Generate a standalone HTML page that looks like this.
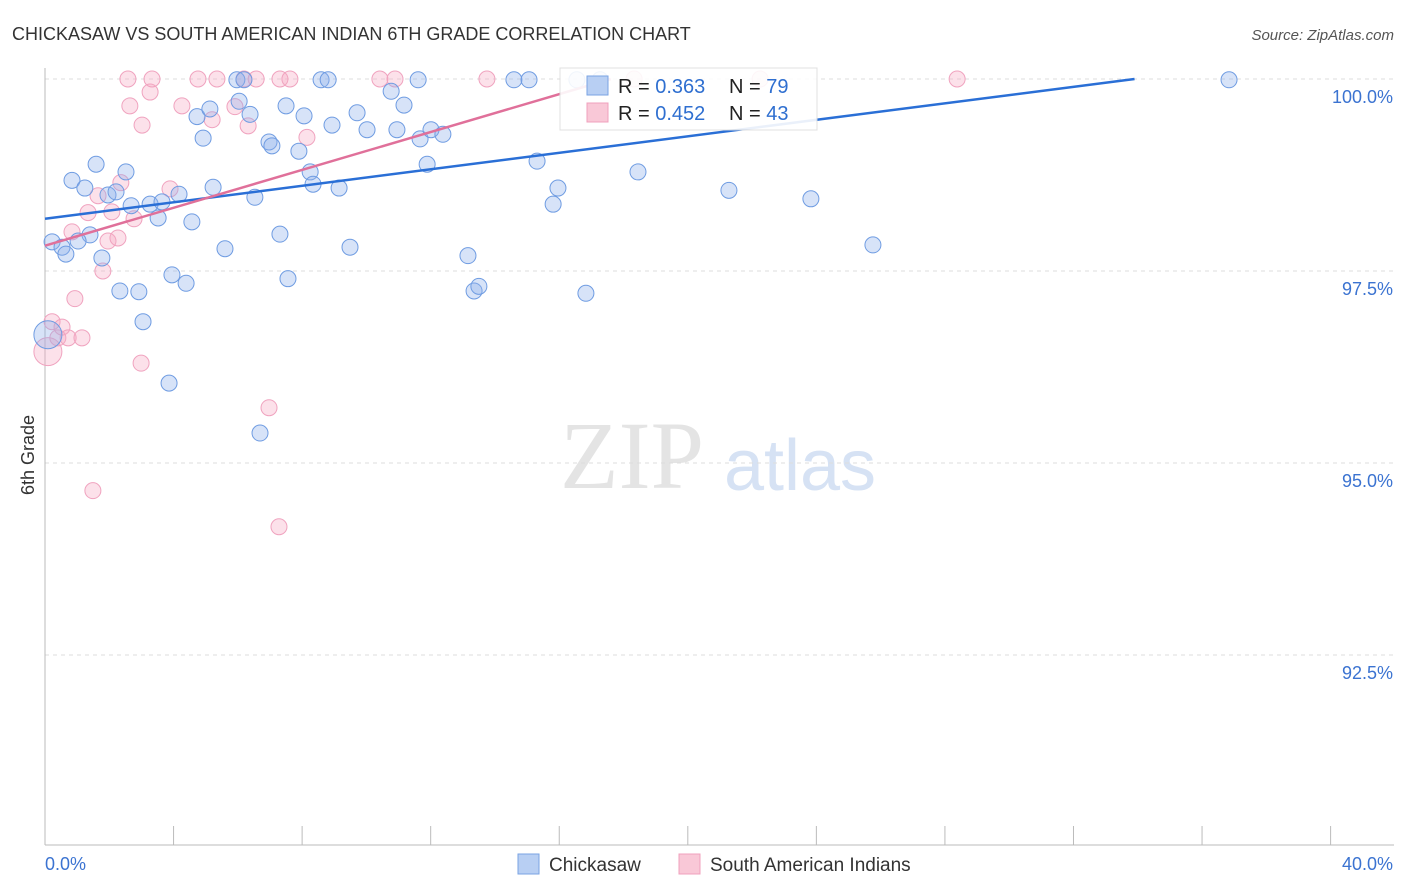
<!DOCTYPE html>
<html><head><meta charset="utf-8"><style>
body{margin:0;background:#fff;font-family:"Liberation Sans",sans-serif;}
svg{display:block}
</style></head><body>
<svg id="c" width="1406" height="892">
<text x="12" y="40" font-size="18" fill="#333">CHICKASAW VS SOUTH AMERICAN INDIAN 6TH GRADE CORRELATION CHART</text>
<text x="1394" y="40" font-size="15" fill="#555" font-style="italic" text-anchor="end">Source: ZipAtlas.com</text>
<text x="632" y="488" font-size="96" fill="#e4e4e4" font-family="Liberation Serif" text-anchor="middle">ZIP</text>
<text x="800" y="490" font-size="72" fill="#d6e2f4" text-anchor="middle">atlas</text>
<g id="grid"></g><g id="pts"></g><g id="lines"></g>
<text transform="translate(34,455) rotate(-90)" font-size="18" fill="#333" text-anchor="middle">6th Grade</text>
<g>
<rect x="560" y="68" width="257" height="62" fill="#fff" stroke="#ddd" opacity="0.9"/>
<rect x="587" y="76" width="21" height="19" fill="#b8cff3" stroke="#7aa3e3"/>
<rect x="587" y="103" width="21" height="19" fill="#f9c8d7" stroke="#f0a0bc"/>
<text x="618" y="93" font-size="20" fill="#222">R = <tspan fill="#2f6fd0">0.363</tspan></text>
<text x="729" y="93" font-size="20" fill="#222">N = <tspan fill="#2f6fd0">79</tspan></text>
<text x="618" y="120" font-size="20" fill="#222">R = <tspan fill="#2f6fd0">0.452</tspan></text>
<text x="729" y="120" font-size="20" fill="#222">N = <tspan fill="#2f6fd0">43</tspan></text>
</g>
<g>
<rect x="518" y="854" width="21" height="20" fill="#b8cff3" stroke="#7aa3e3"/>
<text x="549" y="871" font-size="19" fill="#333">Chickasaw</text>
<rect x="679" y="854" width="21" height="20" fill="#f9c8d7" stroke="#f0a0bc"/>
<text x="710" y="871" font-size="19" fill="#333">South American Indians</text>
</g>
</svg>
<script>
const xTicks=[0,4,8,12,16,20,24,28,32,36,40];
const yTicks=[100,97.5,95,92.5];
const yTickLabels=["100.0%","97.5%","95.0%","92.5%"];
const blueX=[0.22,0.53,0.65,0.84,1.24,1.59,1.40,1.03,1.77,1.96,2.21,2.52,2.33,2.68,2.92,3.05,3.27,3.52,3.64,3.86,3.95,4.17,4.39,4.57,4.73,4.92,5.13,5.23,5.60,5.97,6.04,6.19,6.38,6.53,6.69,6.97,7.06,7.31,7.50,7.56,7.90,8.06,8.25,8.34,8.59,8.81,8.93,9.15,9.49,9.71,10.02,10.77,10.95,11.17,11.61,11.67,11.89,12.01,12.38,13.16,13.35,13.50,14.59,15.06,15.31,15.81,15.96,16.55,16.83,17.27,18.45,21.28,23.83,25.76,36.84,0.09];
const blueY=[97.88,97.81,97.72,98.68,98.58,98.89,97.97,97.89,97.67,98.49,98.53,98.79,97.24,98.35,97.23,96.84,98.37,98.19,98.40,96.04,97.45,98.50,97.34,98.14,99.51,99.23,99.61,98.59,97.79,99.99,99.71,99.99,99.54,98.46,95.39,99.18,99.13,97.98,99.65,97.40,99.06,99.52,98.79,98.63,99.99,99.99,99.40,98.58,97.81,99.56,99.34,99.84,99.34,99.66,99.99,99.22,98.89,99.34,99.28,97.70,97.24,97.30,99.99,99.99,98.93,98.37,98.58,99.99,97.21,99.99,98.79,98.55,98.44,97.84,99.99,96.67];
const pinkX=[0.09,0.22,0.40,0.53,0.72,0.93,1.15,1.34,1.49,1.65,1.80,1.96,2.08,2.27,2.36,2.58,2.64,2.77,3.02,2.99,3.27,3.33,3.89,4.26,4.76,5.20,5.35,5.91,6.19,6.32,6.57,6.97,7.28,7.31,7.62,8.15,10.42,10.89,13.75,18.33,28.38,0.84,22.25];
const pinkY=[96.45,96.84,96.63,96.77,96.63,97.14,96.63,98.26,94.64,98.48,97.50,97.89,98.27,97.93,98.65,100,99.65,98.18,99.40,96.30,99.83,100,98.57,99.65,100,99.47,100,99.64,100,99.39,100,95.72,94.17,100,100,99.24,100,100,100,100,100,98.01,100];
const blueLine=[[0,98.18],[33.9,100]];
const pinkLine=[[0,97.83],[17.6,100]];
const NS="http://www.w3.org/2000/svg";
const X=v=>45+v*32.14, Y=v=>79+(100-v)*76.8;
function mk(t,a,p){const e=document.createElementNS(NS,t);for(const k in a)e.setAttribute(k,a[k]);p.appendChild(e);return e;}
const g=document.getElementById('grid');
yTicks.forEach((t,i)=>{
 const l=mk('line',{x1:45,x2:1394,y1:Y(t),y2:Y(t),stroke:'#ddd','stroke-dasharray':'4,4'},g);
 
 
 const tx=mk('text',{x:1393,y:Y(t)+24,'font-size':18,fill:'#3b73d1','text-anchor':'end'},g);
 tx.textContent=yTickLabels[i];
 
 
});
const ax=mk('line',{x1:45,x2:1394,y1:845,y2:845,stroke:'#bbb'},g);


const ay=mk('line',{x1:45,x2:45,y1:68,y2:845,stroke:'#bbb'},g);


xTicks.forEach(t=>{
 const l=mk('line',{x1:X(t),x2:X(t),y1:826,y2:845,stroke:'#bbb'},g);
 
 
});
const xl0=mk('text',{x:45,y:870,'font-size':18,fill:'#3b73d1'},g);xl0.textContent='0.0%';


const xl1=mk('text',{x:1393,y:870,'font-size':18,fill:'#3b73d1','text-anchor':'end'},g);xl1.textContent='40.0%';


const p=document.getElementById('pts');
pinkX.forEach((v,i)=>{
 const c=mk('circle',{cx:X(v),cy:Y(pinkY[i]),r:i==0?14:8,fill:'rgba(246,170,196,0.35)',stroke:'#f0a3bf','stroke-width':1},p);
 
 
});
blueX.forEach((v,i)=>{
 const c=mk('circle',{cx:X(v),cy:Y(blueY[i]),r:i==blueX.length-1?14:8,fill:'rgba(140,175,235,0.35)',stroke:'#6f9ce2','stroke-width':1},p);
 
 
});
const L=document.getElementById('lines');
const bl=mk('line',{x1:X(blueLine[0][0]),y1:Y(blueLine[0][1]),x2:X(blueLine[1][0]),y2:Y(blueLine[1][1]),stroke:'#2a6fd6','stroke-width':2.5},L);


const pl=mk('line',{x1:X(pinkLine[0][0]),y1:Y(pinkLine[0][1]),x2:X(pinkLine[1][0]),y2:Y(pinkLine[1][1]),stroke:'#e0709a','stroke-width':2.5},L);


</script>
</body></html>
